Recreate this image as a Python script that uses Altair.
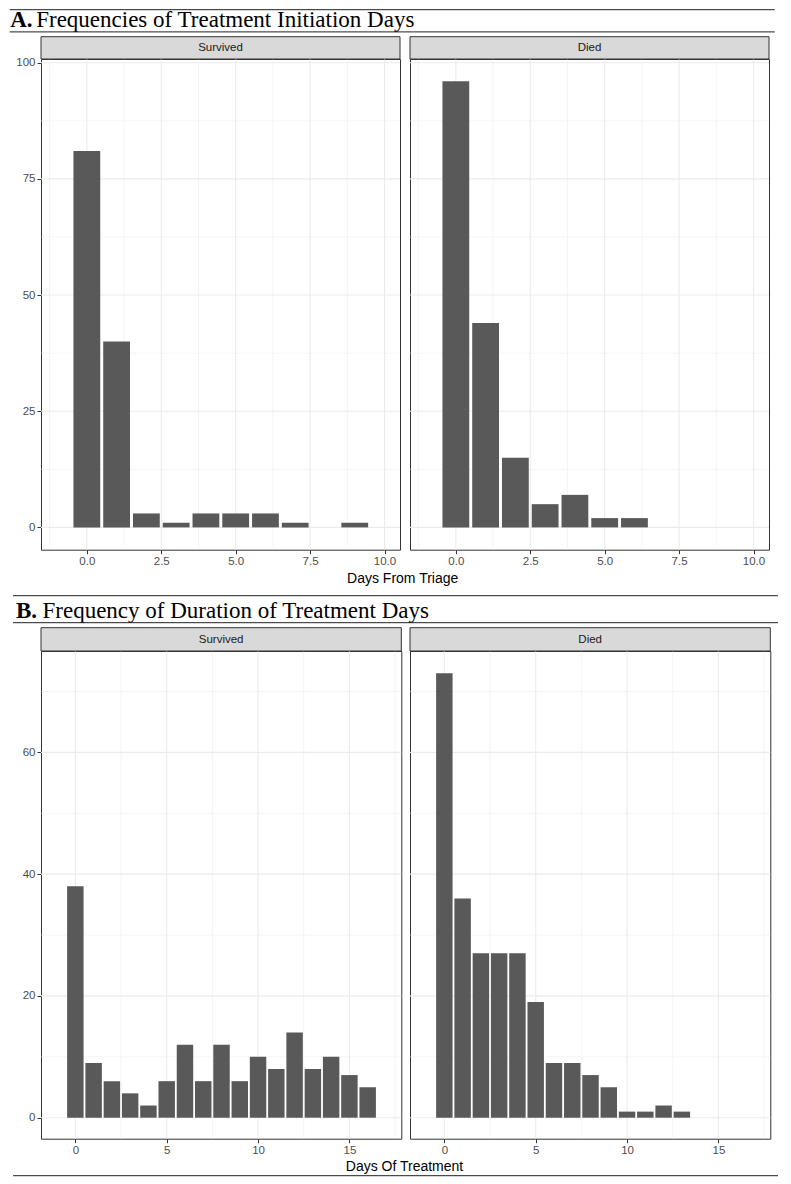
import altair as alt
import pandas as pd

# ---------------- data ----------------
# Panel A: days from triage to treatment initiation
a_surv_days = [0, 1, 2, 3, 4, 5, 6, 7, 9]
a_surv_counts = [81, 40, 3, 1, 3, 3, 3, 1, 1]
a_died_days = [0, 1, 2, 3, 4, 5, 6]
a_died_counts = [96, 44, 15, 5, 7, 2, 2]

# Panel B: duration of treatment (days)
b_surv_days = list(range(0, 17))
b_surv_counts = [38, 9, 6, 4, 2, 6, 12, 6, 12, 6, 10, 8, 14, 8, 10, 7, 5]
b_died_days = list(range(0, 14))
b_died_counts = [73, 36, 27, 27, 27, 19, 9, 9, 7, 5, 1, 1, 2, 1]

strip_labels = ["Survived", "Died"]

a_x_major = [0, 2.5, 5, 7.5, 10]
a_x_minor = [-1.25, 1.25, 3.75, 6.25, 8.75]
a_y_major = [0, 25, 50, 75, 100]
a_y_minor = [12.5, 37.5, 62.5, 87.5]

b_x_major = [0, 5, 10, 15]
b_x_minor = [2.5, 7.5, 12.5, 17.5]
b_y_major = [0, 20, 40, 60]
b_y_minor = [10, 30, 50, 70]

title_a = ["A.", "Frequencies of Treatment Initiation Days"]
title_b = ["B.", "Frequency of Duration of Treatment Days"]
xtitle_a = "Days From Triage"
xtitle_b = "Days Of Treatment"

# ---------------- style ----------------
SANS = "Liberation Sans"
SERIF = "Liberation Serif"
BAR = "#595959"
GRID = "#ebebeb"
BORDER = "#333333"
STRIP = "#d9d9d9"
LINE = "#222222"
TFONT = 23
ONE = pd.DataFrame({"a": [0]})


def axis(values, fmt, show):
    if not show:
        return None
    return alt.Axis(values=values, format=fmt, title=None, grid=False, domain=False,
                    tickSize=4, tickColor=BORDER, tickWidth=1, labelColor="#4d4d4d",
                    labelFont=SANS, labelFontSize=11.5, labelPadding=2)


def hline(x1, x2, y, color=LINE, width=1):
    return alt.Chart(ONE).mark_rule(color=color, strokeWidth=width).encode(
        x=alt.value(x1), x2=alt.value(x2), y=alt.value(y))


def label(txt, x, y, font, size, weight="normal", align="left", baseline="alphabetic",
          color="black"):
    return alt.Chart(pd.DataFrame({"t": [txt]})).mark_text(
        font=font, fontSize=size, fontWeight=weight, color=color, align=align,
        baseline=baseline).encode(text="t:N", x=alt.value(x), y=alt.value(y))


def title_label(txt, x, base_y, weight="normal"):
    # top-baselined text; Vega offsets glyph baseline by round(0.79 * fontSize)
    return label(txt, x, base_y - round(0.79 * TFONT), SERIF, TFONT, weight,
                 baseline="top")


def strip_layers(txt, w, h):
    rect = alt.Chart(ONE).mark_rect(fill=STRIP, stroke=BORDER, strokeWidth=1).encode(
        x=alt.value(0), x2=alt.value(w), y=alt.value(-h), y2=alt.value(0))
    return [rect, label(txt, w / 2, -h / 2 + 0.5, SANS, 11.5, align="center",
                        baseline="middle", color="#1a1a1a")]


def panel(days, counts, xdom, ydom, xmaj, xmin, ymaj, ymin, xfmt, w, h, show_y,
          strip_txt, strip_h, extra):
    xs = alt.Scale(domain=xdom, nice=False, zero=False)
    ys = alt.Scale(domain=ydom, nice=False, zero=False)
    xa = axis(xmaj, xfmt, True)
    ya = axis(ymaj, "d", show_y)

    def xenc(field):
        return alt.X(field, type="quantitative", scale=xs, axis=xa, title=None)

    def yenc(field):
        return alt.Y(field, type="quantitative", scale=ys, axis=ya, title=None)

    layers = []
    for vals, width in ((xmin, 0.55), (xmaj, 1.1)):
        layers.append(alt.Chart(pd.DataFrame({"day": vals})).mark_rule(
            color=GRID, strokeWidth=width).encode(x=xenc("day")))
    for vals, width in ((ymin, 0.55), (ymaj, 1.1)):
        layers.append(alt.Chart(pd.DataFrame({"count": vals})).mark_rule(
            color=GRID, strokeWidth=width).encode(y=yenc("count")))
    bars = alt.Chart(pd.DataFrame({"day": days, "count": counts})).transform_calculate(
        x0="datum.day - 0.45", x1="datum.day + 0.45", base="0"
    ).mark_bar(color=BAR, strokeWidth=0).encode(
        x=xenc("x0"), x2="x1:Q", y=yenc("count"), y2="base:Q")
    layers.append(bars)
    layers += strip_layers(strip_txt, w, strip_h)
    layers += extra
    return alt.layer(*layers).properties(
        width=w, height=h,
        view=alt.ViewBackground(fill="white", stroke=BORDER, strokeWidth=1))


def spacer(w, h):
    return alt.Chart(ONE).mark_point(opacity=0, size=1).encode(
        x=alt.value(w / 2), y=alt.value(h / 2)).properties(
        width=w, height=h, view=alt.ViewBackground(strokeWidth=0, fillOpacity=0))


# ---------------- geometry (layout px) ----------------
LEFT, RIGHT = 13.0, 778.0
COL_SP = 8.0

A_X, A_Y = 44.3, 63.3            # top-left of panel A (Survived)
A_W, A_H, A_STRIP = 359.0, 490.7, 22.3
a_xdom, a_ydom = [-1.54, 10.52], [-4.8, 100.8]

B_X, B_Y = 41.0, 654.3           # top-left of panel B (Survived)
B_W, B_H, B_STRIP = 360.3, 487.7, 23.3
b_xdom, b_ydom = [-1.88, 17.84], [-3.45, 76.65]

# headers / footers drawn relative to the left panel of each row
extraA = [
    hline(LEFT - A_X, RIGHT - A_X, 14 - A_Y),
    title_label(title_a[0], 13.5 - A_X, 31.5 - A_Y, "bold"),
    title_label(title_a[1], 39.5 - A_X, 31.5 - A_Y),
    hline(LEFT - A_X, RIGHT - A_X, 36.2 - A_Y),
    label(xtitle_a, 406 - A_X, 583 - A_Y, SANS, 14, align="center", baseline="middle"),
]
extraB = [
    hline(LEFT - B_X, RIGHT - B_X, 599 - B_Y),
    title_label(title_b[0], 16 - B_X, 621 - B_Y, "bold"),
    title_label(title_b[1], 42.5 - B_X, 621 - B_Y),
    hline(LEFT - B_X, RIGHT - B_X, 626 - B_Y),
    label(xtitle_b, 404.5 - B_X, 1170 - B_Y, SANS, 14, align="center", baseline="middle"),
    hline(LEFT - B_X, RIGHT - B_X, 1179 - B_Y),
]

pAL = panel(a_surv_days, a_surv_counts, a_xdom, a_ydom, a_x_major, a_x_minor,
            a_y_major, a_y_minor, ".1f", A_W, A_H, True, strip_labels[0], A_STRIP, extraA)
pAR = panel(a_died_days, a_died_counts, a_xdom, a_ydom, a_x_major, a_x_minor,
            a_y_major, a_y_minor, ".1f", A_W, A_H, False, strip_labels[1], A_STRIP, [])
pBL = panel(b_surv_days, b_surv_counts, b_xdom, b_ydom, b_x_major, b_x_minor,
            b_y_major, b_y_minor, "d", B_W, B_H, True, strip_labels[0], B_STRIP, extraB)
pBR = panel(b_died_days, b_died_counts, b_xdom, b_ydom, b_x_major, b_x_minor,
            b_y_major, b_y_minor, "d", B_W, B_H, False, strip_labels[1], B_STRIP, [])

ROW_SP = COL_SP
gap = B_Y - (A_Y + A_H) - 2 * ROW_SP
spA = 4.3
spB = spA - (A_X - B_X)

chart = alt.concat(
    spacer(spA, A_H), pAL, pAR,
    spacer(spA, gap), spacer(A_W, gap), spacer(A_W, gap),
    spacer(spB, B_H), pBL, pBR,
    columns=3, spacing=COL_SP, bounds="flush", align="none",
).properties(
    padding={"left": 0, "top": 0, "right": 0, "bottom": 0}, background="white"
).configure_view(strokeWidth=0)

chart.save("out.html", embed_options={"renderer": "svg", "actions": False})
